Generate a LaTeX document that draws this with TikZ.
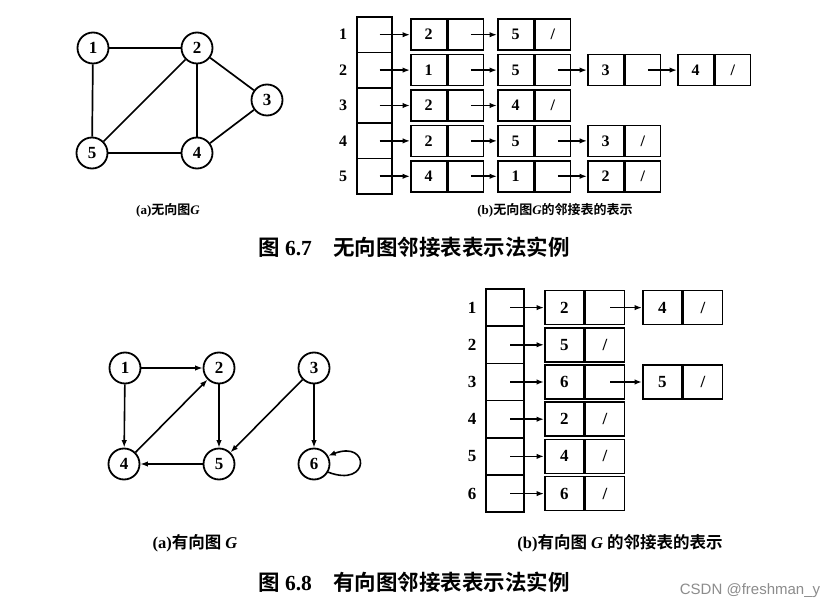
\documentclass[tikz,border=0pt]{standalone}
\usepackage{fontspec}
\setmainfont{Liberation Serif}
\newfontfamily\cjk{Noto Sans CJK SC}[BoldFont={* Bold}]
\newfontfamily\wmfont{Liberation Sans}
\usetikzlibrary{arrows.meta}
\newcommand\mkcell[5]{%
  \node[#1,anchor=west] (#2) at (#3) {#4};
  \node[#1,anchor=west] (#2p) at (#2.east) {#5};}
\begin{document}
\begin{tikzpicture}[x=1pt,y=-1pt,
  vtx/.style={circle,draw,line width=1.8pt,minimum size=31pt,inner sep=0pt,font=\fontsize{17}{17}\selectfont\bfseries},
  edge/.style={line width=1.7pt},
  arr/.style={line width=1.6pt,-{Latex[length=7.5pt,width=5.5pt]}},
  tcell/.style={draw,line width=1.7pt,minimum width=35.5pt,minimum height=31pt,inner sep=0pt,font=\fontsize{16}{16}\selectfont\bfseries},
  bcell/.style={draw,line width=1.7pt,minimum width=39pt,minimum height=34pt,inner sep=0pt,font=\fontsize{17}{17}\selectfont\bfseries},
  thead/.style={draw,line width=1.7pt,minimum width=35pt,minimum height=35.4pt,inner sep=0pt},
  bhead/.style={draw,line width=1.7pt,minimum width=38pt,minimum height=37.2pt,inner sep=0pt},
  lbl/.style={font=\fontsize{16}{16}\selectfont\bfseries},
  ptr/.style={arr,shorten <=5pt},
  smallcap/.style={font=\fontsize{13}{13}\selectfont\bfseries},
  midcap/.style={font=\fontsize{16.5}{16.5}\selectfont\bfseries},
  bigcap/.style={font=\fontsize{21.5}{21.5}\selectfont\bfseries}
]
\fill[white] (0,0) rectangle (834,609);
\useasboundingbox (0,0) rectangle (834,609);

% ---------- undirected graph ----------
\node[vtx] (a1) at (93,48) {1};
\node[vtx] (a2) at (197,48) {2};
\node[vtx] (a3) at (267,100) {3};
\node[vtx] (a4) at (197,153) {4};
\node[vtx] (a5) at (92,153) {5};
\draw[edge] (a1) -- (a2);
\draw[edge] (a1) -- (a5);
\draw[edge] (a2) -- (a5);
\draw[edge] (a2) -- (a4);
\draw[edge] (a2) -- (a3);
\draw[edge] (a3) -- (a4);
\draw[edge] (a5) -- (a4);
\node[smallcap] (capa1) at (168,210) {(a){\cjk 无向图}\textit{G}};

% ---------- undirected adjacency list ----------
\foreach \i/\y in {1/34.7,2/70.1,3/105.5,4/140.9,5/176.3}{
  \node[thead] (h\i) at (374.5,\y) {};
  \node[lbl] (l\i) at (343,\y) {\i};
}
\mkcell{tcell}{t11}{410,34.7}{2}{}
\mkcell{tcell}{t12}{497,34.7}{5}{/}
\mkcell{tcell}{t21}{410,70.1}{1}{}
\mkcell{tcell}{t22}{497,70.1}{5}{}
\mkcell{tcell}{t23}{587,70.1}{3}{}
\mkcell{tcell}{t24}{677,70.1}{4}{/}
\mkcell{tcell}{t31}{410,105.5}{2}{}
\mkcell{tcell}{t32}{497,105.5}{4}{/}
\mkcell{tcell}{t41}{410,140.9}{2}{}
\mkcell{tcell}{t42}{497,140.9}{5}{}
\mkcell{tcell}{t43}{587,140.9}{3}{/}
\mkcell{tcell}{t51}{410,176.3}{4}{}
\mkcell{tcell}{t52}{497,176.3}{1}{}
\mkcell{tcell}{t53}{587,176.3}{2}{/}
\draw[ptr] (h1.center) -- (t11.west);
\draw[ptr] (t11p.center) -- (t12.west);
\draw[ptr] (h2.center) -- (t21.west);
\draw[ptr] (t21p.center) -- (t22.west);
\draw[ptr] (t22p.center) -- (t23.west);
\draw[ptr] (t23p.center) -- (t24.west);
\draw[ptr] (h3.center) -- (t31.west);
\draw[ptr] (t31p.center) -- (t32.west);
\draw[ptr] (h4.center) -- (t41.west);
\draw[ptr] (t41p.center) -- (t42.west);
\draw[ptr] (t42p.center) -- (t43.west);
\draw[ptr] (h5.center) -- (t51.west);
\draw[ptr] (t51p.center) -- (t52.west);
\draw[ptr] (t52p.center) -- (t53.west);
\node[smallcap] (capb1) at (555,210) {(b){\cjk 无向图}\textit{G}{\cjk 的邻接表的表示}};

\node[bigcap] (fig1) at (414,247) {{\cjk 图} 6.7\quad{\cjk 无向图邻接表表示法实例}};

% ---------- directed graph ----------
\node[vtx] (b1) at (125,368) {1};
\node[vtx] (b2) at (219,368) {2};
\node[vtx] (b3) at (314,368) {3};
\node[vtx] (b4) at (124,464) {4};
\node[vtx] (b5) at (219,464) {5};
\node[vtx] (b6) at (314,464) {6};
\draw[arr] (b1) -- (b2);
\draw[arr] (b1) -- (b4);
\draw[arr] (b4) -- (b2);
\draw[arr] (b2) -- (b5);
\draw[arr] (b5) -- (b4);
\draw[arr] (b3) -- (b5);
\draw[arr] (b3) -- (b6);
\draw[arr] (b6.-30) .. controls +(42,16) and +(42,-16) .. (b6.30);
\node[midcap] (capa2) at (195,543) {(a){\cjk 有向图} \textit{G}};

% ---------- directed adjacency list ----------
\foreach \i/\y in {1/307.6,2/344.8,3/382,4/419.2,5/456.4,6/493.6}{
  \node[bhead] (g\i) at (505,\y) {};
  \node[lbl,font=\fontsize{17}{17}\selectfont\bfseries] (m\i) at (472,\y) {\i};
}
\mkcell{bcell}{u11}{544,307.6}{2}{}
\mkcell{bcell}{u12}{642,307.6}{4}{/}
\mkcell{bcell}{u21}{544,344.8}{5}{/}
\mkcell{bcell}{u31}{544,382}{6}{}
\mkcell{bcell}{u32}{642,382}{5}{/}
\mkcell{bcell}{u41}{544,419.2}{2}{/}
\mkcell{bcell}{u51}{544,456.4}{4}{/}
\mkcell{bcell}{u61}{544,493.6}{6}{/}
\draw[ptr] (g1.center) -- (u11.west);
\draw[ptr] (u11p.center) -- (u12.west);
\draw[ptr] (g2.center) -- (u21.west);
\draw[ptr] (g3.center) -- (u31.west);
\draw[ptr] (u31p.center) -- (u32.west);
\draw[ptr] (g4.center) -- (u41.west);
\draw[ptr] (g5.center) -- (u51.west);
\draw[ptr] (g6.center) -- (u61.west);
\node[midcap] (capb2) at (620,543) {(b){\cjk 有向图} \textit{G} {\cjk 的邻接表的表示}};

\node[bigcap] (fig2) at (414,582) {{\cjk 图} 6.8\quad{\cjk 有向图邻接表表示法实例}};

\node[font=\fontsize{15}{15}\selectfont\wmfont, text=black!45] (wm) at (750,591) {CSDN @freshman\_y};
\end{tikzpicture}
\end{document}
